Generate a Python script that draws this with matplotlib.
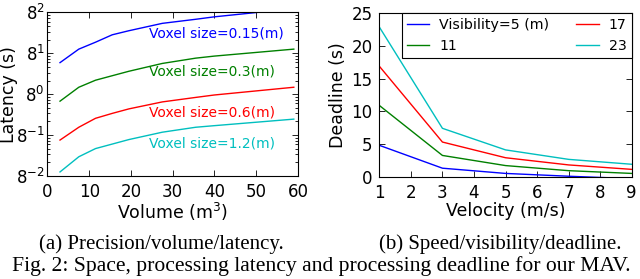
import numpy as np
import matplotlib
matplotlib.use("Agg")
import matplotlib.pyplot as plt
from matplotlib.ticker import LogLocator, LogFormatterMathtext, NullFormatter

# (a) latency vs volume, one curve per voxel size (values read on a base-8 log axis)
volume = [3, 7.5, 11.5, 15.5, 19.5, 27.5, 35.5, 40, 59]
volume_015 = [3, 7.5, 11.5, 15.5, 19.5, 27.5, 35.5, 40, 50.5]
lat_015 = [4.96, 9.85, 14.0, 20.4, 25.1, 36.5, 44.9, 50.9, 64.0]
lat_03 = [0.70, 1.42, 2.03, 2.55, 3.20, 4.76, 6.23, 6.92, 9.85]
lat_06 = [0.097, 0.186, 0.293, 0.376, 0.473, 0.674, 0.847, 0.959, 1.42]
lat_12 = [0.0192, 0.0415, 0.0629, 0.0791, 0.0995, 0.1446, 0.186, 0.2017, 0.281]
voxel_labels = ["Voxel size=0.15(m)", "Voxel size=0.3(m)",
                "Voxel size=0.6(m)", "Voxel size=1.2(m)"]

# (b) deadline vs velocity, one curve per visibility
velocity = [1, 3, 5, 7, 9]
dl_5 = [4.8, 1.3, 0.5, 0.07, -0.3]
dl_11 = [10.9, 3.25, 1.7, 0.92, 0.5]
dl_17 = [16.9, 5.3, 2.9, 1.8, 1.12]
dl_23 = [22.9, 7.4, 4.1, 2.65, 1.9]
vis_labels = ["Visibility=5 (m)", "11", "17", "23"]

colors = ["b", "g", "r", "c"]

plt.rcParams["font.family"] = "DejaVu Sans"
plt.rcParams["mathtext.default"] = "regular"


def style_axes(ax):
    ax.tick_params(which="both", direction="in", top=True, right=True,
                   labelsize=12, width=0.6)
    ax.tick_params(which="major", length=4, pad=5)
    ax.tick_params(which="minor", length=2)
    for s in ax.spines.values():
        s.set_linewidth(0.8)


def make_plot():
    fig = plt.figure(figsize=(6.4, 2.79), dpi=100)
    ax1 = fig.add_axes([0.0742, 0.3692, 0.3914, 0.5867])
    ax2 = fig.add_axes([0.5927, 0.3667, 0.3944, 0.5857])

    # left panel
    series = [(volume_015, lat_015), (volume, lat_03), (volume, lat_06), (volume, lat_12)]
    for (xs, ys), c in zip(series, colors):
        ax1.plot(xs, ys, color=c, lw=1)
    ax1.set_yscale("log", base=8)
    ax1.set_xlim(0, 60)
    ax1.set_ylim(8.0 ** -2, 8.0 ** 2)
    ax1.set_xticks(np.arange(0, 61, 10))
    ax1.yaxis.set_major_locator(LogLocator(base=8, numticks=10))
    ax1.yaxis.set_minor_locator(LogLocator(base=8, subs=np.arange(2, 8), numticks=10))
    ax1.yaxis.set_major_formatter(LogFormatterMathtext(base=8))
    ax1.yaxis.set_minor_formatter(NullFormatter())
    style_axes(ax1)
    ax1.tick_params(axis="y", which="major", pad=2)
    text_pos = [1.49, 0.55, -0.455, -1.20]
    for lab, c, e in zip(voxel_labels, colors, text_pos):
        ax1.text(24.3, 8.0 ** e, lab, color=c, fontsize=10, va="center")
    ax1.set_xlabel("Volume (m$^3$)", fontsize=12.5, labelpad=0)
    ax1.set_ylabel("Latency (s)", fontsize=12.5, va="center")
    ax1.yaxis.set_label_coords(-0.155, 0.5)

    # right panel
    for ys, c, lab in zip([dl_5, dl_11, dl_17, dl_23], colors, vis_labels):
        ax2.plot(velocity, ys, color=c, lw=1, label=lab)
    ax2.set_xlim(1, 9)
    ax2.set_ylim(0, 25)
    ax2.set_xticks(np.arange(1, 10))
    ax2.set_yticks(np.arange(0, 26, 5))
    style_axes(ax2)
    leg = ax2.legend(loc="upper right", ncol=2, fontsize=10.2, fancybox=False,
                     borderaxespad=0, borderpad=0.35, handlelength=1.6,
                     handletextpad=0.7, columnspacing=1.9, framealpha=1)
    leg.get_frame().set_edgecolor("black")
    leg.get_frame().set_linewidth(0.8)
    ax2.set_xlabel("Velocity (m/s)", fontsize=12.5, labelpad=0)
    ax2.set_ylabel("Deadline (s)", fontsize=12.5, labelpad=3)

    # captions
    serif = "Liberation Serif"
    fig.text(161 / 640, 1 - 249.5 / 279, "(a) Precision/volume/latency.",
             ha="center", va="baseline", fontsize=15, family=serif)
    fig.text(500 / 640, 1 - 249.5 / 279, "(b) Speed/visibility/deadline.",
             ha="center", va="baseline", fontsize=15, family=serif)
    fig.text(12 / 640, 1 - 271 / 279,
             "Fig. 2: Space, processing latency and processing deadline for our MAV.",
             ha="left", va="baseline", fontsize=15.6, family=serif)

    fig.savefig("out.png", dpi=100, facecolor="white")


if __name__ == "__main__":
    make_plot()
